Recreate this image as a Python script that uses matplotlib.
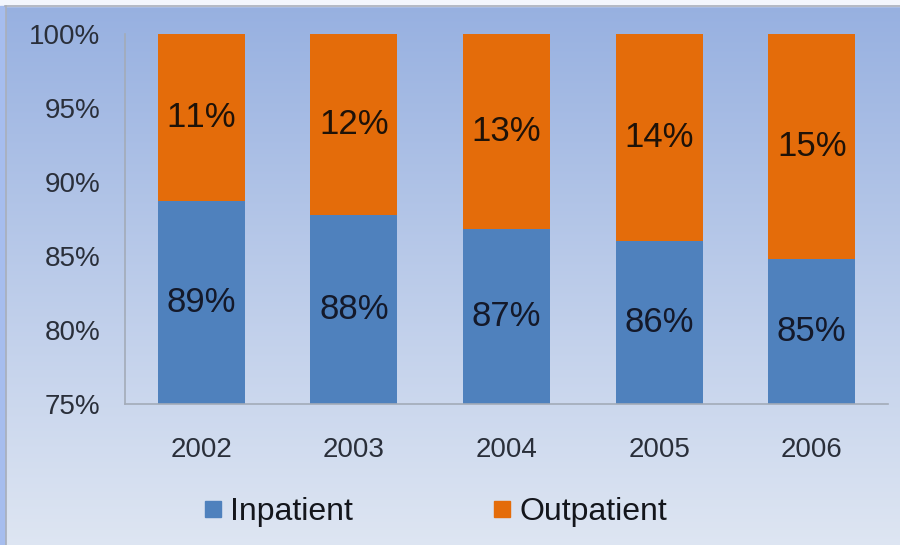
import matplotlib
matplotlib.use("Agg")
import matplotlib.pyplot as plt
import numpy as np
from matplotlib.lines import Line2D

try:
    plt.rcParams["text.kerning_factor"] = 20
except Exception:
    pass

years = ["2002", "2003", "2004", "2005", "2006"]
inpatient = [88.7, 87.8, 86.8, 86.0, 84.8]
outpatient = [11.3, 12.2, 13.2, 14.0, 15.2]
inpatient_labels = ["89%", "88%", "87%", "86%", "85%"]
outpatient_labels = ["11%", "12%", "13%", "14%", "15%"]
yticks = [75, 80, 85, 90, 95, 100]
ytick_labels = ["75%", "80%", "85%", "90%", "95%", "100%"]

BLUE = "#4f81bd"
ORANGE = "#e46c0a"
FONT = "Liberation Sans"

fig = plt.figure(figsize=(9, 5.45), dpi=100)

# background gradient
bg = fig.add_axes([0, 0, 1, 1], zorder=-10)
top = np.array([0.59, 0.69, 0.88])
bot = np.array([0.87, 0.90, 0.95])
t = np.linspace(0, 1, 256)[:, None]
grad = top[None, None, :] * (1 - t[..., None]) + bot[None, None, :] * t[..., None]
grad = np.repeat(grad, 2, axis=1)
bg.imshow(grad, aspect="auto", extent=[0, 1, 0, 1], origin="upper")
bg.set_xlim(0, 1)
bg.set_ylim(0, 1)
# outer frame pieces
bg.fill_between([0, 1], 1 - 5.5 / 545, 1, color="#f3f6fd", zorder=2)
bg.fill_betweenx([0, 1 - 5.5 / 545], 0, 5 / 900, color="#a6bdee", zorder=2)
bg.plot([5 / 900, 1], [1 - 6 / 545, 1 - 6 / 545], color="#a9afbb", lw=1.2, zorder=3)
bg.plot([5.5 / 900, 5.5 / 900], [0, 1 - 6 / 545], color="#a9afbb", lw=1.2, zorder=3)
bg.axis("off")

ax = fig.add_axes([125 / 900, 1 - 404 / 545, 763 / 900, 370 / 545])
ax.patch.set_alpha(0)
x = np.arange(len(years))
w = 0.57
ax.bar(x, [v - 75 for v in inpatient], bottom=75, width=w, color=BLUE, zorder=2)
ax.bar(x, outpatient, bottom=inpatient, width=w, color=ORANGE, zorder=2)

for i in range(len(years)):
    ax.text(x[i], (75 + inpatient[i]) / 2, inpatient_labels[i], ha="center", va="center",
            fontsize=25, color="#14192a", family=FONT, zorder=3)
    ax.text(x[i], inpatient[i] + outpatient[i] / 2, outpatient_labels[i], ha="center", va="center",
            fontsize=25, color="#1e1208", family=FONT, zorder=3)

ax.set_xlim(-0.5, len(years) - 0.5)
ax.set_ylim(75, 100)
ax.set_yticks(yticks)
ax.set_yticklabels(ytick_labels, family=FONT, fontsize=20, color="#2a2f3a")
ax.set_xticks(x)
ax.set_xticklabels(years, family=FONT, fontsize=20, color="#2a2f3a")
ax.tick_params(axis="y", length=0, pad=18)
ax.tick_params(axis="x", length=0, pad=24)
for s in ["top", "right"]:
    ax.spines[s].set_visible(False)
for s in ["left", "bottom"]:
    ax.spines[s].set_color("#a3abb8")
    ax.spines[s].set_linewidth(1.2)

handles = [Line2D([], [], marker="s", ls="none", color=BLUE, markersize=11.5),
           Line2D([], [], marker="s", ls="none", color=ORANGE, markersize=11.5)]
leg = fig.legend(handles, ["Inpatient", "Outpatient"], loc="center",
                 bbox_to_anchor=(436 / 900, 1 - 512 / 545), ncol=2, frameon=False,
                 prop={"family": FONT, "size": 23}, handlelength=0.5,
                 handletextpad=0.3, columnspacing=4.4, labelcolor="#14161c")

fig.savefig("out.png", dpi=100)
